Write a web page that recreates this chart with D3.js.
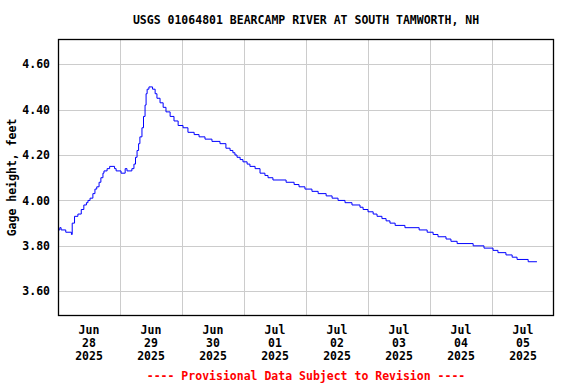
<!DOCTYPE html>
<html>
<head>
<meta charset="utf-8">
<script src="https://cdn.jsdelivr.net/npm/d3@7"></script>
<style>
  body { margin: 0; background: #fff; }
  text { font-family: "DejaVu Sans Mono", monospace; font-weight: bold; font-size: 11.5px; }
</style>
</head>
<body>
<svg id="chart" width="576" height="384"></svg>
<script>
// readings, hours since 2025-06-28 00:00 and gage height in feet
const hours = [0, 0.7, 1.2, 3, 5.2, 5.5, 6.4, 7.7, 9, 10, 11, 11.6, 12.4, 13.5, 14.3, 15, 15.9, 16.6,
  17.4, 17.8, 19, 20, 21.9, 22.5, 24.4, 26, 26.7, 28.6, 29.4, 30, 30.6, 31.2, 31.7, 32.5, 33.1,
  33.7, 34.1, 34.5, 35.2, 36.6, 37.6, 38.3, 39.5, 40.7, 41.8, 43.4, 44.9, 46.5, 48.4, 50.3,
  52.7, 54.6, 56.9, 59.6, 62.7, 65, 66.6, 67.7, 68.5, 69.3, 70.5, 71.6, 73.2, 74.3, 76.3,
  78.2, 80.1, 81.3, 83.2, 88.3, 91.4, 93.3, 95.6, 98.3, 100.7, 103.8, 106.1, 108.4, 111.1,
  113.8, 116.9, 118.1, 120, 122, 123.5, 125.4, 127, 128.5, 130.5, 134.3, 139.8, 142.9, 145.2,
  147.1, 150.2, 152.1, 154.5, 160.7, 164.9, 168.4, 170.3, 173.4, 175.8, 177.7, 182, 185.4]
const gage = [3.87, 3.88, 3.87, 3.86, 3.85, 3.90, 3.93, 3.94, 3.96, 3.98, 3.99, 4.00, 4.01, 4.03, 4.05, 4.06, 4.08, 4.10,
  4.12, 4.13, 4.14, 4.15, 4.14, 4.13, 4.12, 4.14, 4.13, 4.14, 4.16, 4.19, 4.22, 4.25, 4.28, 4.32, 4.37,
  4.42, 4.47, 4.49, 4.50, 4.49, 4.47, 4.45, 4.43, 4.41, 4.39, 4.37, 4.35, 4.33, 4.32, 4.30,
  4.29, 4.28, 4.27, 4.26, 4.25, 4.23, 4.22, 4.21, 4.20, 4.19, 4.18, 4.17, 4.16, 4.15, 4.14,
  4.12, 4.11, 4.10, 4.09, 4.08, 4.07, 4.06, 4.05, 4.04, 4.03, 4.02, 4.01, 4.00, 3.99,
  3.98, 3.97, 3.96, 3.95, 3.94, 3.93, 3.92, 3.91, 3.90, 3.89, 3.88, 3.87, 3.86, 3.85,
  3.84, 3.83, 3.82, 3.81, 3.80, 3.79, 3.78, 3.77, 3.76, 3.75, 3.74, 3.73, 3.73]

const yTicks = [3.60, 3.80, 4.00, 4.20, 4.40, 4.60]
const dayLabels = ["2025-06-28", "2025-06-29", "2025-06-30", "2025-07-01",
  "2025-07-02", "2025-07-03", "2025-07-04", "2025-07-05"]

const title = "USGS 01064801 BEARCAMP RIVER AT SOUTH TAMWORTH, NH"
const yTitle = "Gage height, feet"
const note = "---- Provisional Data Subject to Revision ----"

const margin = { top: 39, right: 22, bottom: 68, left: 58 }
const width = 576, height = 384

const parseDay = d3.timeParse("%Y-%m-%d")
const start = parseDay("2025-06-28")
const end = parseDay("2025-07-06")

const x = d3.scaleTime()
	.domain([start, end])
	.range([margin.left, width - margin.right])

const y = d3.scaleLinear()
	.domain([3.491, 4.711])
	.range([height - margin.bottom, margin.top])

const data = hours.map((h, i) => ({ t: new Date(start.getTime() + h * 3600e3), v: gage[i] }))

const svg = d3.select("#chart")

svg.append("rect").attr("width", width).attr("height", height).attr("fill", "#fff")

// grid
const days = d3.timeDay.range(d3.timeDay.offset(start, 1), end)
svg.append("g").selectAll("line").data(days).join("line")
	.attr("x1", d => Math.round(x(d)) + 0.5).attr("x2", d => Math.round(x(d)) + 0.5)
	.attr("y1", margin.top).attr("y2", height - margin.bottom)
	.attr("stroke", "#cccccc")

svg.append("g").selectAll("line").data(yTicks).join("line")
	.attr("x1", margin.left).attr("x2", width - margin.right)
	.attr("y1", d => Math.round(y(d)) + 0.5).attr("y2", d => Math.round(y(d)) + 0.5)
	.attr("stroke", "#cccccc")

// the series
const line = d3.line()
	.x(d => x(d.t))
	.y(d => y(d.v))
	.curve(d3.curveStepAfter)

svg.append("path").datum(data)
	.attr("d", line)
	.attr("fill", "none")
	.attr("stroke", "#0000ff")
	.attr("stroke-width", 1)

// frame
svg.append("rect")
	.attr("x", margin.left + 0.5).attr("y", margin.top + 0.5)
	.attr("width", width - margin.left - margin.right - 1)
	.attr("height", height - margin.top - margin.bottom - 1)
	.attr("fill", "none").attr("stroke", "#000").attr("stroke-width", 1.3)

// y labels
svg.append("g").selectAll("text").data(yTicks).join("text")
	.attr("x", 50).attr("y", d => y(d)).attr("dy", "0.36em")
	.attr("text-anchor", "end")
	.text(d => d3.format(".2f")(d))

// x labels, centred on noon of each day
const fmts = [d3.timeFormat("%b"), d3.timeFormat("%d"), d3.timeFormat("%Y")]
const xl = svg.append("g").selectAll("text").data(dayLabels.map(parseDay)).join("text")
	.attr("text-anchor", "middle")
	.attr("transform", d => `translate(${x(d3.timeHour.offset(d, 12))},0)`)
fmts.forEach((f, i) => {
	xl.append("tspan").attr("x", 0).attr("y", 334 + i * 13).text(d => f(d))
})

svg.append("text")
	.attr("x", (margin.left + width - margin.right) / 2).attr("y", 24)
	.attr("text-anchor", "middle")
	.text(title)

svg.append("text")
	.attr("transform", `translate(16,${(margin.top + height - margin.bottom) / 2}) rotate(-90)`)
	.attr("text-anchor", "middle")
	.text(yTitle)

svg.append("text")
	.attr("x", (margin.left + width - margin.right) / 2).attr("y", 380)
	.attr("text-anchor", "middle")
	.attr("fill", "#ff0000")
	.text(note)
</script>
</body>
</html>
